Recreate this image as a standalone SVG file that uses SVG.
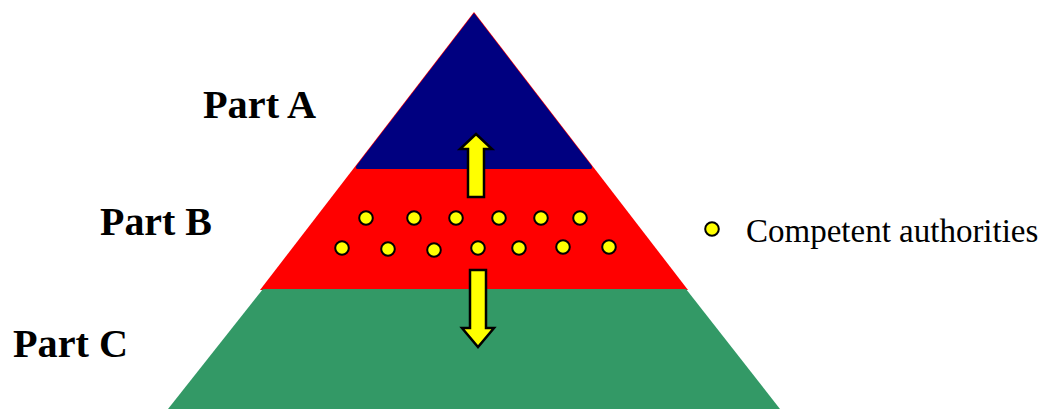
<svg xmlns="http://www.w3.org/2000/svg" width="1040" height="409" viewBox="0 0 1040 409">
<style>
.lbl{font-family:"Liberation Serif","Times New Roman",serif;font-weight:bold;font-size:40px;fill:#000}
.leg{font-family:"Liberation Serif","Times New Roman",serif;font-size:33px;fill:#000}
.dot{fill:#FFFF00;stroke:#000;stroke-width:2}
.arr{fill:#FFFF00;stroke:#000;stroke-width:2.5;stroke-linejoin:miter}
</style>
<rect width="1040" height="409" fill="#fff"/>
<g id="layer-b">
<polygon points="474,12 260,290 688,290" fill="#FF0000"/>
</g>
<g id="layer-a">
<path d="M474,13 L357,165 Q354,169 359,169 L589,169 Q594,169 591,165 Z" fill="#000080"/>
</g>
<g id="layer-c">
<path d="M263,289 L168,409 L780,409 L686,289 Z" fill="#339966"/>
</g>
<g id="dots">
<circle class="dot" cx="366" cy="218" r="6.8"/>
<circle class="dot" cx="414" cy="218" r="6.8"/>
<circle class="dot" cx="456" cy="218" r="6.8"/>
<circle class="dot" cx="499" cy="218" r="6.8"/>
<circle class="dot" cx="541" cy="218" r="6.8"/>
<circle class="dot" cx="580" cy="218" r="6.8"/>
<circle class="dot" cx="342" cy="248" r="6.8"/>
<circle class="dot" cx="388" cy="249" r="6.8"/>
<circle class="dot" cx="434" cy="250" r="6.8"/>
<circle class="dot" cx="478" cy="248" r="6.8"/>
<circle class="dot" cx="519" cy="248" r="6.8"/>
<circle class="dot" cx="563" cy="247" r="6.8"/>
<circle class="dot" cx="609" cy="247" r="6.8"/>
</g>
<g id="connectors">
<polygon class="arr" points="476,134 492,149 484,149 484,197 468,197 468,149 460,149"/>
<polygon class="arr" points="470,270 486,270 486,328 494,328 478,347 462,328 470,328"/>
</g>
<g id="label-a"><text class="lbl" x="203" y="118" textLength="113" lengthAdjust="spacingAndGlyphs">Part A</text></g>
<g id="label-b"><text class="lbl" x="100" y="235" textLength="112" lengthAdjust="spacingAndGlyphs">Part B</text></g>
<g id="label-c"><text class="lbl" x="13" y="357" textLength="115" lengthAdjust="spacingAndGlyphs">Part C</text></g>
<g id="legend">
<circle class="dot" cx="712" cy="229" r="6.8"/>
<text class="leg" x="746" y="242">Competent authorities</text>
</g>
</svg>
